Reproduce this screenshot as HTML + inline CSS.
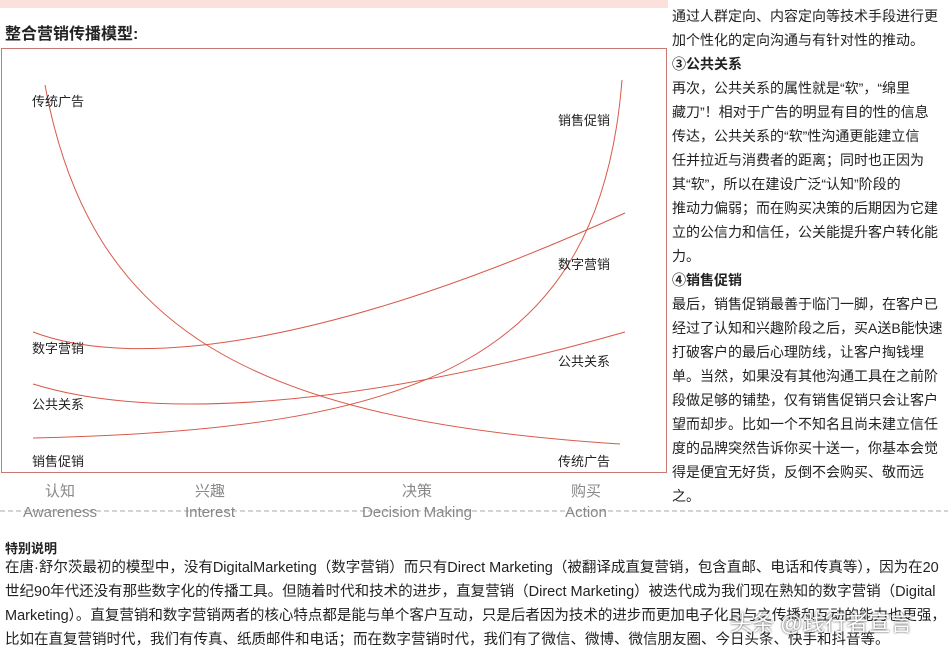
<!DOCTYPE html><html><head><meta charset="utf-8"><style>
body{margin:0;width:948px;height:656px;overflow:hidden;background:#fff;font-family:"Liberation Sans","Noto Sans CJK SC",sans-serif;color:#222;position:relative}
.a{position:absolute;white-space:nowrap}
.r{position:absolute;left:672px;font-size:14px;line-height:24px;width:276px}
.b{position:absolute;left:5px;font-size:14.5px;line-height:24px;white-space:nowrap}
.ax{position:absolute;color:#888;font-size:15px;text-align:center;width:160px}
</style></head><body>
<div class="a" style="left:0;top:0;width:668px;height:8px;background:#fbe0dc"></div>
<div class="a" style="left:5px;top:20px;font-size:16px;font-weight:bold">整合营销传播模型:</div>
<svg class="a" style="left:0;top:0" width="948" height="656">
<rect x="1.5" y="48.5" width="665" height="424" fill="none" stroke="#c87a72"/>
<g fill="none" stroke="#d9594a" stroke-width="1">
<path d="M45,85 C90,330 250,420 620,444"/>
<path d="M33,438 C420,430 600,360 622,80"/>
<path d="M33,332 C120,365 300,360 625,213"/>
<path d="M33,384 C150,420 350,410 625,332"/>
</g>
<line x1="0" y1="511" x2="948" y2="511" stroke="#aaa" stroke-dasharray="5,3"/>
</svg>
<div class="a" style="left:32px;top:91px;font-size:13px">传统广告</div>
<div class="a" style="left:32px;top:338px;font-size:13px">数字营销</div>
<div class="a" style="left:32px;top:394px;font-size:13px">公共关系</div>
<div class="a" style="left:32px;top:451px;font-size:13px">销售促销</div>
<div class="a" style="left:558px;top:110px;font-size:13px">销售促销</div>
<div class="a" style="left:558px;top:254px;font-size:13px">数字营销</div>
<div class="a" style="left:558px;top:351px;font-size:13px">公共关系</div>
<div class="a" style="left:558px;top:451px;font-size:13px">传统广告</div>
<div class="ax" style="left:-20px;top:481px;line-height:21px">认知<br>Awareness</div>
<div class="ax" style="left:130px;top:481px;line-height:21px">兴趣<br>Interest</div>
<div class="ax" style="left:337px;top:481px;line-height:21px">决策<br>Decision Making</div>
<div class="ax" style="left:506px;top:481px;line-height:21px">购买<br>Action</div>
<div class="r" style="top:4px">通过人群定向、内容定向等技术手段进行更<br>加个性化的定向沟通与有针对性的推动。<br><b>③公共关系</b><br>再次，公共关系的属性就是“软”，“绵里<br>藏刀”！相对于广告的明显有目的性的信息<br>传达，公共关系的“软”性沟通更能建立信<br>任并拉近与消费者的距离；同时也正因为<br>其“软”，所以在建设广泛“认知”阶段的<br>推动力偏弱；而在购买决策的后期因为它建<br>立的公信力和信任，公关能提升客户转化能<br>力。<br><b>④销售促销</b><br>最后，销售促销最善于临门一脚，在客户已<br>经过了认知和兴趣阶段之后，买A送B能快速<br>打破客户的最后心理防线，让客户掏钱埋<br>单。当然，如果没有其他沟通工具在之前阶<br>段做足够的铺垫，仅有销售促销只会让客户<br>望而却步。比如一个不知名且尚未建立信任<br>度的品牌突然告诉你买十送一，你基本会觉<br>得是便宜无好货，反倒不会购买、敬而远<br>之。</div>
<div class="a" style="left:5px;top:538px;font-size:13px;font-weight:bold">特别说明</div>
<div class="b" style="top:556px">在唐·舒尔茨最初的模型中，没有DigitalMarketing（数字营销）而只有Direct Marketing（被翻译成直复营销，包含直邮、电话和传真等），因为在20<br>世纪90年代还没有那些数字化的传播工具。但随着时代和技术的进步，直复营销（Direct Marketing）被迭代成为我们现在熟知的数字营销（Digital<br>Marketing）。直复营销和数字营销两者的核心特点都是能与单个客户互动，只是后者因为技术的进步而更加电子化且与之传播和互动的能力也更强，<br>比如在直复营销时代，我们有传真、纸质邮件和电话；而在数字营销时代，我们有了微信、微博、微信朋友圈、今日头条、快手和抖音等。</div>
<div class="a" style="left:730px;top:606px;font-size:22px;color:#fff;text-shadow:0 0 2px #333">头条 @践行者宣言</div>
</body></html>
